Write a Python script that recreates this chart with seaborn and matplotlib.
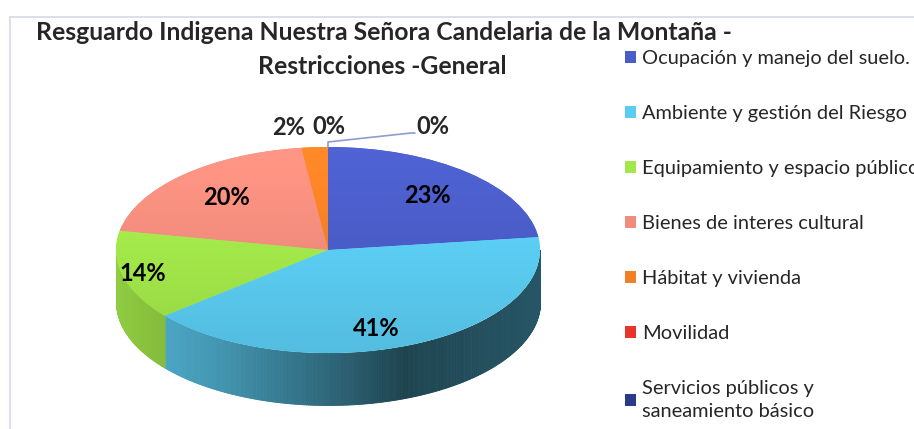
import numpy as np
import matplotlib
matplotlib.use("Agg")
import matplotlib.pyplot as plt
import matplotlib.transforms as mtransforms
from matplotlib.patches import Rectangle
import seaborn as sns

# datos
categorias = ["Ocupación y manejo del suelo.", "Ambiente y gestión del Riesgo",
              "Equipamiento y espacio público", "Bienes de interes cultural",
              "Hábitat y vivienda", "Movilidad",
              "Servicios públicos y\nsaneamiento básico"]
porcentajes = [23, 41, 14, 20, 2, 0, 0]
colores = ["#4a5cc6", "#5bcdf3", "#a3e84a", "#f18c7c", "#f28026", "#e8352a", "#283a88"]

sns.set_style("white")
plt.rcParams['font.family'] = ['Lato', 'DejaVu Sans']

fig = plt.figure(figsize=(9.14, 4.29), dpi=100)
ax = fig.add_axes([0, 0, 1, 1])

# geometria del pastel 3D (pixeles)
cx, cy = 328, 179
a, b, prof = 212, 103, 52

vals = np.array(porcentajes, dtype=float)
fin = np.cumsum(vals) / vals.sum() * 360
ini = fin - vals / vals.sum() * 360

def rgb(c, f):
    r = np.array(matplotlib.colors.to_rgb(c)) * f
    return np.clip(r, 0, 1)

# pared lateral (solo la mitad frontal)
for i in range(len(vals)):
    t0, t1 = max(ini[i], 90), min(fin[i], 270)
    if t1 <= t0:
        continue
    th = np.linspace(t0, t1, int((t1 - t0) * 2) + 2)
    for k in range(len(th) - 1):
        tt = np.radians(th[k:k + 2])
        xs = cx + a * np.sin(tt)
        ys = cy + b * np.cos(tt)
        u = (xs.mean() - cx) / a
        f = np.interp(u, [-1, -0.5, 0.0, 0.35, 1], [0.88, 0.72, 0.5, 0.33, 0.42])
        col = rgb(colores[i], f)
        ax.fill_between(xs, ys - prof, ys, color=col, lw=0.6, ec=col)

# cara superior
wedges, _ = ax.pie(vals, colors=colores, startangle=90, counterclock=False,
                   radius=a, center=(cx, cy), wedgeprops=dict(lw=0))
achatar = mtransforms.Affine2D().translate(-cx, -cy).scale(1, b / a).translate(cx, cy)
grad = np.linspace(1.08, 0.92, 100).reshape(-1, 1)
for w, c in zip(wedges, colores):
    w.set_transform(achatar + ax.transData)
    img = np.array([[rgb(c, g) for g in row] for row in grad])
    im = ax.imshow(img, extent=(cx - a, cx + a, cy - b, cy + b), aspect='auto',
                   origin='upper', zorder=2)
    im.set_clip_path(w)

# etiquetas de porcentaje
radio_et = [0.71, 0.72, 0.9, 0.7]
ajuste = [(0, 0), (-12, -10), (0, 0), (0, 0)]
for i, v in enumerate(vals):
    tm = np.radians((ini[i] + fin[i]) / 2)
    if i < len(radio_et):
        x = cx + radio_et[i] * a * np.sin(tm) + ajuste[i][0]
        y = cy + radio_et[i] * b * np.cos(tm) + ajuste[i][1]
        ax.text(x, y, f"{v:.0f}%", ha='center', va='center', fontsize=17,
                fontweight='bold', color='black', zorder=5)

borde = lambda i: (cx + a * np.sin(np.radians((ini[i] + fin[i]) / 2)),
                   cy + b * np.cos(np.radians((ini[i] + fin[i]) / 2)))
x4, y4 = borde(4)
ax.text(x4 - 10, y4 + 20, f"{vals[4]:.0f}%", ha='right', va='center', fontsize=17,
        fontweight='bold', zorder=5)
x5, y5 = borde(5)
ax.text(x5 + 1, y5 + 20, f"{vals[5]:.0f}%", ha='center', va='center', fontsize=17,
        fontweight='bold', zorder=5)
x6, y6 = borde(6)
ax.plot([x6, x6, x6 + 83, x6 + 87], [y6, y6 + 5, y6 + 14, y6 + 14],
        color="#8e9bd0", lw=1.2, zorder=4)
ax.text(x6 + 88, y6 + 20, f"{vals[6]:.0f}%", ha='left', va='center', fontsize=17,
        fontweight='bold', zorder=5)

# marco del grafico
ax.add_patch(Rectangle((10, -20), 950, 412 + 20, fill=False, ec="#d5d9e8", lw=1.2, zorder=0))

ax.set_xlim(0, 914)
ax.set_ylim(0, 429)
ax.set_aspect('auto')
ax.axis('off')

fig.text(384 / 914, 1 - 33 / 429, "Resguardo Indigena Nuestra Señora Candelaria de la Montaña -",
         ha='center', va='center', fontsize=17.8, fontweight='bold')
fig.text(382 / 914, 1 - 67 / 429, "Restricciones -General",
         ha='center', va='center', fontsize=17.8, fontweight='bold')

leg = fig.legend(wedges, categorias, loc='upper left', bbox_to_anchor=(625 / 914, 1 - 50 / 429),
                 frameon=False, fontsize=14.4, handlelength=0.55, handleheight=0.55,
                 handletextpad=0.3, labelspacing=1.9, borderpad=0, borderaxespad=0)
leg.get_texts()[-1].set_linespacing(1.4)

fig.savefig("out.png", dpi=100)
